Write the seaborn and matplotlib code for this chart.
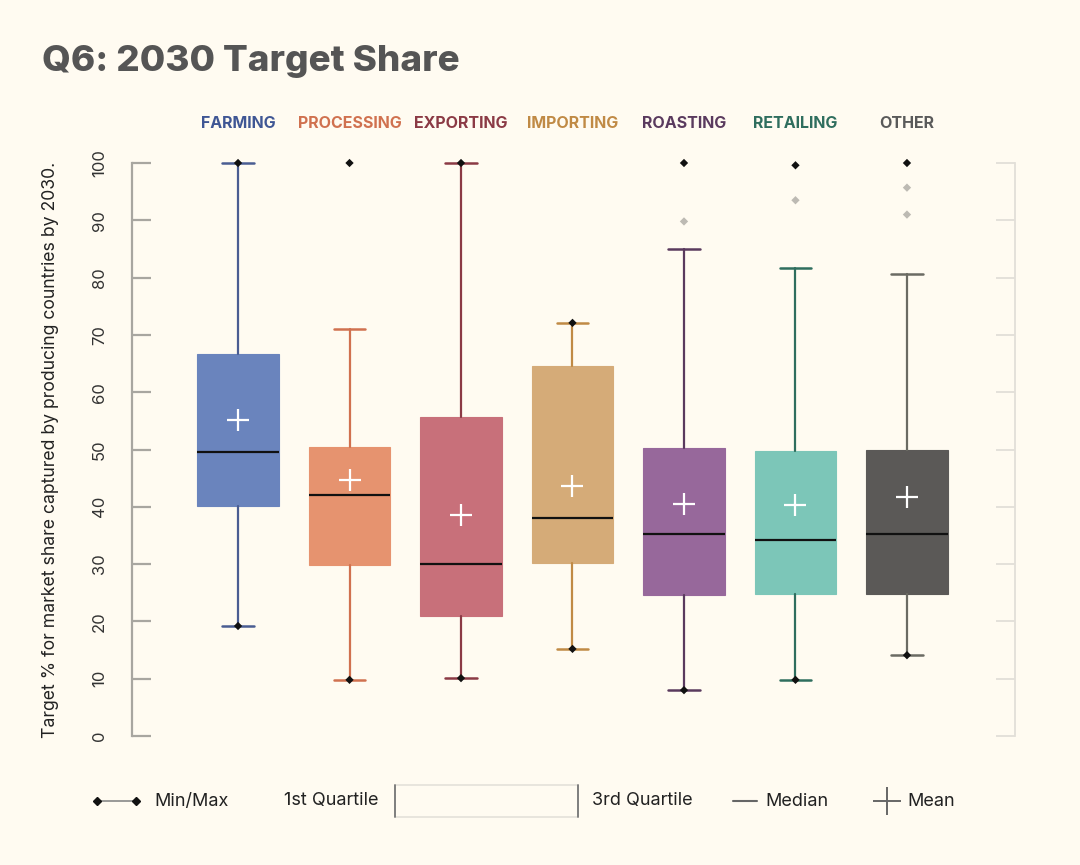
import matplotlib
matplotlib.use("Agg")
import matplotlib.pyplot as plt
from matplotlib.lines import Line2D
from matplotlib.patches import Rectangle
import matplotlib.transforms as mtransforms
import seaborn as sns
import pandas as pd

# ---------------- data ----------------
categories = ["FARMING", "PROCESSING", "EXPORTING", "IMPORTING", "ROASTING", "RETAILING", "OTHER"]
whisker_lo = [19.2, 9.8, 10.1, 15.2, 8.0, 9.8, 14.1]
q1_vals = [40.1, 29.8, 20.9, 30.2, 24.6, 24.8, 24.8]
medians = [49.5, 42.0, 30.0, 38.0, 35.3, 34.2, 35.3]
q3_vals = [66.7, 50.4, 55.7, 64.6, 50.3, 49.8, 50.0]
whisker_hi = [100.0, 71.0, 100.0, 72.1, 85.0, 81.7, 80.6]
min_vals = [19.2, 9.8, 10.1, 15.2, 8.0, 9.8, 14.1]
max_vals = [100.0, 100.0, 100.0, 72.1, 100.0, 99.6, 100.0]
means = [55.1, 44.7, 38.6, 43.6, 40.5, 40.3, 41.7]
outlier_cats = ["ROASTING", "RETAILING", "OTHER", "OTHER"]
outlier_vals = [89.8, 93.5, 95.7, 91.0]
y_ticks = [0, 10, 20, 30, 40, 50, 60, 70, 80, 90, 100]

box_colors = ["#6a84bd", "#e6936f", "#c8707a", "#d5ab78", "#97689b", "#7cc6b8", "#5b5957"]
line_colors = ["#4a5d92", "#d0714f", "#8b3a45", "#c08a45", "#5a3a5e", "#2f6e5e", "#6b6b63"]
label_colors = ["#3f5694", "#d0714f", "#8b3a45", "#c08a45", "#5a3a5e", "#2f6e5e", "#5a5a5a"]

BG = "#fffbf1"

sns.set_theme(style="white")
plt.rcParams["font.family"] = ["Inter", "DejaVu Sans"]

fig = plt.figure(figsize=(10.8, 8.65), dpi=100, facecolor=BG)
ax = fig.add_axes([132 / 1080, (865 - 736) / 865, (1015 - 132) / 1080, (736 - 163) / 865])
ax.set_facecolor(BG)

pos = list(range(len(categories)))
stats = []
for i, c in enumerate(categories):
    stats.append(dict(label=c, whislo=whisker_lo[i], q1=q1_vals[i], med=medians[i],
                      q3=q3_vals[i], whishi=whisker_hi[i], mean=means[i], fliers=[]))

for i in pos:
    ax.bxp([stats[i]], positions=[i], widths=0.735, patch_artist=True,
           showmeans=False, showfliers=False, manage_ticks=False,
           boxprops=dict(facecolor=box_colors[i], edgecolor=box_colors[i], linewidth=0.8),
           whiskerprops=dict(color=line_colors[i], linewidth=1.6),
           capprops=dict(color=line_colors[i], linewidth=1.8),
           capwidths=0.28,
           medianprops=dict(color="#111111", linewidth=1.6),
           zorder=2)

# min/max markers, outliers, means via seaborn on the same axes
df_ext = pd.DataFrame({"x": pos + pos, "y": min_vals + max_vals})
sns.scatterplot(data=df_ext, x="x", y="y", marker="D", s=18, color="#111111",
                edgecolor="none", ax=ax, zorder=4, legend=False, clip_on=False)
df_out = pd.DataFrame({"x": [categories.index(c) for c in outlier_cats], "y": outlier_vals})
sns.scatterplot(data=df_out, x="x", y="y", marker="D", s=18, color="#bdbab3",
                edgecolor="none", ax=ax, zorder=4, legend=False, clip_on=False)
df_mean = pd.DataFrame({"x": pos, "y": means})
sns.scatterplot(data=df_mean, x="x", y="y", marker="+", s=260, color="white",
                linewidth=1.6, ax=ax, zorder=5, legend=False)
for ln in ax.lines:
    ln.set_clip_on(False)

ax.set_xlim(-0.951, 6.969)
ax.set_ylim(0, 100)
ax.set_xticks([])
ax.set_xlabel("")
ax.set_yticks(y_ticks)
ax.set_yticklabels([str(t) for t in y_ticks], rotation=90, va="center", fontsize=12,
                   color="#333333")
ax.tick_params(axis="y", direction="in", length=14, width=1.6, color="#a8a6a0", pad=18)
for s in ["top", "bottom", "right"]:
    ax.spines[s].set_visible(False)
ax.spines["left"].set_color("#a8a6a0")
ax.spines["left"].set_linewidth(1.6)
ax.set_ylabel("Target % for market share captured by producing countries by 2030.",
              fontsize=12.7, color="#222222", labelpad=24)

# right light axis
ax2 = ax.twinx()
ax2.set_ylim(0, 100)
ax2.set_yticks(y_ticks)
ax2.set_yticklabels([])
ax2.tick_params(axis="y", direction="in", length=14, width=1.3, color="#e2dfd8")
for s in ["top", "bottom", "left"]:
    ax2.spines[s].set_visible(False)
ax2.spines["right"].set_color("#e2dfd8")
ax2.spines["right"].set_linewidth(1.3)
ax2.set_zorder(ax.get_zorder() - 1)
ax.patch.set_visible(False)
ax2.patch.set_facecolor(BG)

# category headers
trans = mtransforms.blended_transform_factory(ax.transData, fig.transFigure)
for i, c in enumerate(categories):
    ax.text(i, 1 - 123 / 865, c, transform=trans, ha="center", va="center",
            fontsize=11.5, fontweight="bold", color=label_colors[i])

# title
fig.text(42 / 1080, 1 - 62 / 865, "Q6: 2030 Target Share", ha="left", va="center",
         fontsize=26.5, fontweight="heavy", color="#555555")

# legend (figure coords)
def fx(px):
    return px / 1080

def fy(py):
    return 1 - py / 865

ly = fy(801)
fig.add_artist(Line2D([fx(97), fx(136)], [ly, ly], color="#888888", lw=1.2))
fig.add_artist(Line2D([fx(97), fx(136)], [ly, ly], color="#111111", lw=0, marker="D",
                      markersize=4))
fig.text(fx(154), ly, "Min/Max", ha="left", va="center", fontsize=13, color="#222222")
fig.text(fx(379), ly, "1st Quartile", ha="right", va="center", fontsize=13, color="#222222")
fig.add_artist(Rectangle((fx(395), fy(817)), fx(578) - fx(395), fy(785) - fy(817),
                         facecolor=BG, edgecolor="#e4e1da", lw=1.2))
fig.add_artist(Line2D([fx(395), fx(395)], [fy(785), fy(817)], color="#777777", lw=1.3))
fig.add_artist(Line2D([fx(578), fx(578)], [fy(785), fy(817)], color="#777777", lw=1.3))
fig.text(fx(592), ly, "3rd Quartile", ha="left", va="center", fontsize=13, color="#222222")
fig.add_artist(Line2D([fx(733), fx(757)], [ly, ly], color="#666666", lw=1.5))
fig.text(fx(765), ly, "Median", ha="left", va="center", fontsize=13, color="#222222")
fig.add_artist(Line2D([fx(887)], [ly], color="#666666", lw=0, marker="+", markersize=20,
                      markeredgewidth=1.4))
fig.text(fx(907), ly, "Mean", ha="left", va="center", fontsize=13, color="#222222")

fig.savefig("out.png", dpi=100, facecolor=BG)
